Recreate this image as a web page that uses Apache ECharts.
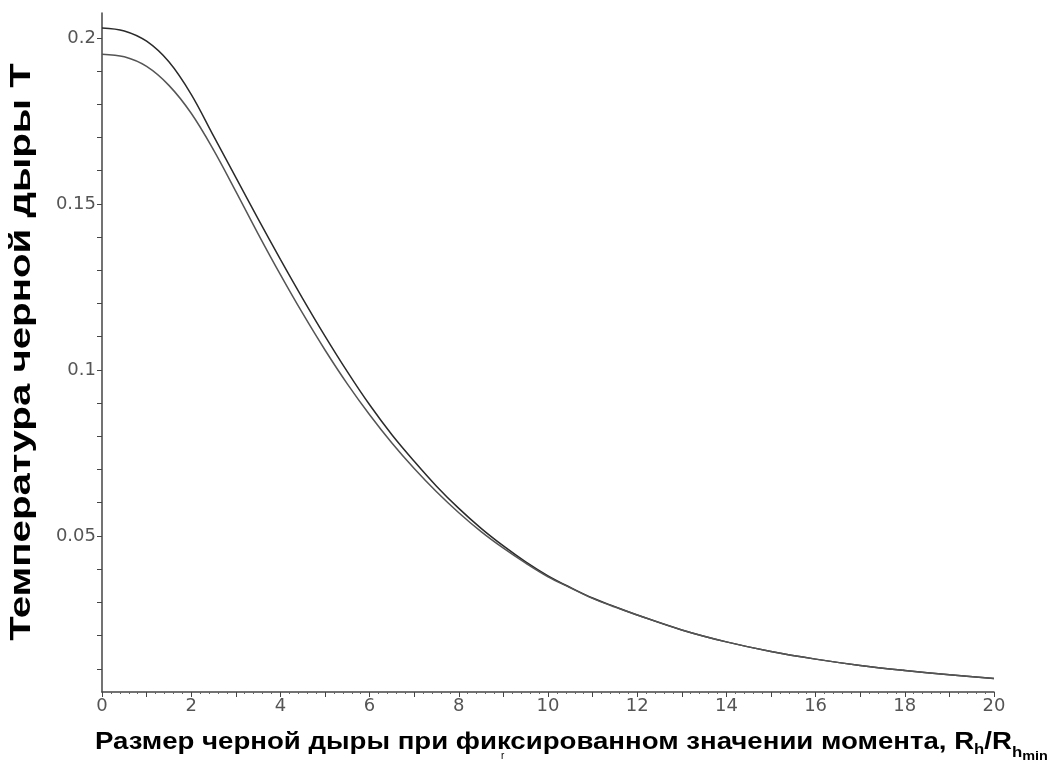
<!DOCTYPE html>
<html>
<head>
<meta charset="utf-8">
<script src="https://cdn.jsdelivr.net/npm/echarts@6/dist/echarts.min.js"></script>
<style>
html,body{margin:0;padding:0;background:#fff;}
#chart{width:1053px;height:763px;}
</style>
</head>
<body>
<div id="chart"></div>
<script>
// ---- data ----
const xs = [0,0.5,1,1.5,2,2.5,3,3.5,4,4.5,5,5.5,6,6.5,7,7.5,8,8.5,9,9.5,10,10.5,11,11.5,12,13,14,15,16,17,18,19,20];
const tempUpper = [0.2030,0.2021,0.1990,0.1928,0.1830,0.1705,0.1580,0.1455,0.1333,0.1215,0.1102,0.0995,0.0895,0.0805,0.0725,0.0650,0.0583,0.0523,0.0470,0.0422,0.0380,0.0345,0.0313,0.0287,0.0262,0.0217,0.0181,0.0152,0.0129,0.0110,0.0095,0.0082,0.0071];
const tempLower = [0.1951,0.1943,0.1914,0.1857,0.1773,0.1663,0.1538,0.1410,0.1287,0.1170,0.1060,0.0958,0.0865,0.0780,0.0703,0.0633,0.0570,0.0513,0.0463,0.0418,0.0377,0.0344,0.0312,0.0286,0.0262,0.0217,0.0181,0.0152,0.0129,0.0110,0.0095,0.0082,0.0071];
const xTickLabels = [0,2,4,6,8,10,12,14,16,18,20];
const yTickLabels = [0.05,0.1,0.15,0.2];
const yMinorTicks = [0.01,0.02,0.03,0.04,0.05,0.06,0.07,0.08,0.09,0.1,0.11,0.12,0.13,0.14,0.15,0.16,0.17,0.18,0.19,0.2];
const yTitle = 'Температура черной дыры Т';
const xTitleMain = 'Размер черной дыры при фиксированном значении момента, ';

const chart = echarts.init(document.getElementById('chart'), null, {renderer:'canvas'});
const pairs = arr => xs.map((x,i)=>[x,arr[i]]);
const axisCol = '#444';
const labelStyle = {color:'#555', fontFamily:'DejaVu Sans', fontSize:18};

// x-axis title pieces (laid out by measuring text widths)
const FAM = '"Liberation Sans", Arial, sans-serif';
const mctx = document.createElement('canvas').getContext('2d');
function w(txt, font){ mctx.font = font; return mctx.measureText(txt).width; }
const fMain = 'bold 23px ' + FAM, fSub = 'bold 14px ' + FAM, fSub2 = 'bold 12px ' + FAM;
const pieces = [
  {t: xTitleMain + 'R', f: fMain, y: 743},
  {t: 'h', f: fSub, y: 750.5},
  {t: '/R', f: fMain, y: 743},
  {t: 'h', f: fSub, y: 753},
  {t: 'min', f: fSub2, y: 756.5}
];
let cx = 0;
const titleChildren = pieces.map(p => {
  const el = {type:'text', x: cx, y: p.y, style:{text:p.t, font:p.f, fill:'#000', verticalAlign:'middle'}};
  cx += w(p.t, p.f);
  return el;
});

chart.setOption({
  animation:false,
  backgroundColor:'#fff',
  grid:{left:102,right:59,top:13,bottom:71,containLabel:false},
  xAxis:{
    type:'value',min:0,max:20,interval:1,
    axisLine:{show:true,onZero:false,lineStyle:{color:axisCol,width:1.5}},
    axisTick:{show:true,length:5,lineStyle:{color:axisCol}},
    minorTick:{show:true,splitNumber:5,length:2,lineStyle:{color:'#666'}},
    axisLabel:{customValues:xTickLabels,margin:5,...labelStyle},
    splitLine:{show:false}
  },
  yAxis:{
    type:'value',min:0.003,max:0.2075,
    axisLine:{show:true,onZero:false,lineStyle:{color:axisCol,width:1.5}},
    axisTick:{show:true,length:5,customValues:yMinorTicks,lineStyle:{color:axisCol}},
    axisLabel:{customValues:yTickLabels,margin:6,...labelStyle},
    splitLine:{show:false}
  },
  series:[
    {type:'line',data:pairs(tempUpper),smooth:0.35,showSymbol:false,lineStyle:{color:'#2a2a2a',width:1.5}},
    {type:'line',data:pairs(tempLower),smooth:0.35,showSymbol:false,lineStyle:{color:'#555',width:1.5}}
  ],
  graphic:[
    {type:'text',x:22,y:352,rotation:Math.PI/2,scaleX:1.34,
      style:{text:yTitle,fill:'#000',font:'bold 30px ' + FAM,align:'center',verticalAlign:'middle'}},
    {type:'group',x:95,y:0,scaleX:1.2,children:titleChildren},
    {type:'text',x:501,y:751,style:{text:'r',fill:'#000',font:'10px ' + FAM}}
  ]
});
</script>
</body>
</html>
